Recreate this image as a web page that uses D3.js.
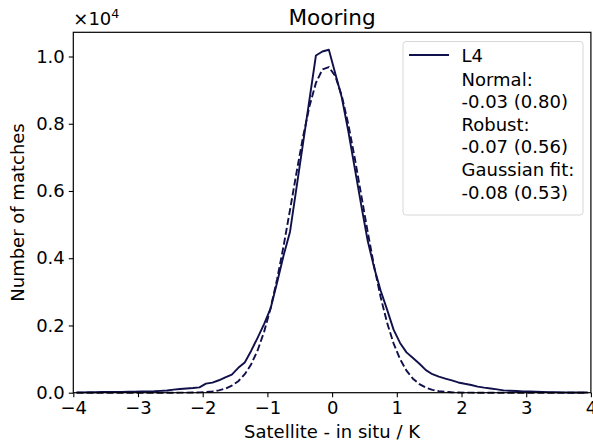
<!DOCTYPE html>
<html><head><meta charset="utf-8">
<script src="https://cdn.jsdelivr.net/npm/d3@7"></script>
<style>
body{margin:0;background:#fff;}
text{font-family:"DejaVu Sans",sans-serif;fill:#000;}
</style></head>
<body><svg id="c" width="593" height="443"></svg>
<script>
// bin centres (K)
const binCentres = d3.range(80).map(i => +(-3.95 + i * 0.1).toFixed(2));
// L4 histogram counts
const countsL4 = [
 10,10,15,15,20,20,25,25,30,30,
 35,40,45,55,65,90,110,125,140,160,
 270,300,370,455,540,740,900,1250,1640,2045,
 2510,3280,4080,4790,6100,7410,8720,10030,10150,10200,
 9490,8780,7780,6680,5580,4520,3720,3040,2470,1875,
 1480,1200,1030,860,670,550,476,420,365,305,
 265,230,180,150,125,100,70,60,50,40,
 35,30,25,15,12,10,8,6,5,5];
// Gaussian fit curve
const fitL4 = [
 0,0,0,0,0,0,0,0,0,0,
 0,0,0,0,0,0,1,2,5,10,
 19,37,68,121,207,343,549,848,1264,1817,
 2520,3377,4363,5442,6548,7602,8519,9214,9616,9684,
 9413,8828,7990,6980,5883,4784,3758,2846,2080,1468,
 999,656,416,255,150,86,47,25,13,6,
 3,1,0,0,0,0,0,0,0,0,
 0,0,0,0,0,0,0,0,0,0];
const xTicks = [-4,-3,-2,-1,0,1,2,3,4];
const yTicks = [0,2000,4000,6000,8000,10000];
const legendLines = ["Normal:","-0.03 (0.80)","Robust:","-0.07 (0.56)","Gaussian fit:","-0.08 (0.53)"];
const title = "Mooring";

const col = "#10104a";
const svg = d3.select("#c");
const L = 73.3, R = 590.9, T = 32.3, B = 392.7;
const x = d3.scaleLinear().domain([-4,4]).range([L,R]);
const y = d3.scaleLinear().domain([0,10720]).range([B,T]);
const fs = 18;

const line = d3.line().x((d,i)=>x(binCentres[i])).y(d=>y(d));
const g = svg.append("g");
g.append("path").datum(countsL4).attr("d",line).attr("fill","none").attr("stroke",col).attr("stroke-width",1.9).attr("stroke-linejoin","round");
g.append("path").datum(fitL4).attr("d",line).attr("fill","none").attr("stroke",col).attr("stroke-width",1.9).attr("stroke-dasharray","7,3");

// axes
const xa = svg.append("g").attr("transform",`translate(0,${B})`)
  .call(d3.axisBottom(x).tickValues(xTicks).tickSize(4.5).tickPadding(4).tickFormat(d=>d<0?"\u2212"+(-d):d));
const ya = svg.append("g").attr("transform",`translate(${L},0)`)
  .call(d3.axisLeft(y).tickValues(yTicks).tickSize(4.5).tickPadding(4).tickFormat(d=>(d/10000).toFixed(1)));
[xa,ya].forEach(a=>{a.select(".domain").remove();a.selectAll("line").attr("stroke","#000").attr("stroke-width",1.1);a.selectAll("text").style("font-size",fs+"px").attr("font-family","DejaVu Sans").attr("fill","#000");});
svg.append("rect").attr("x",L).attr("y",T).attr("width",R-L).attr("height",B-T).attr("fill","none").attr("stroke","#000").attr("stroke-width",1.2);

// multiplier
const m = svg.append("text").attr("x",L).attr("y",25).style("font-size",fs+"px");
m.append("tspan").text("\u00d710");
m.append("tspan").attr("dy",-7).style("font-size",(fs*0.7)+"px").text("4");

svg.append("text").attr("x",(L+R)/2).attr("y",25).attr("text-anchor","middle").style("font-size",(fs*1.2)+"px").text(title);
svg.append("text").attr("x",(L+R)/2).attr("y",438).attr("text-anchor","middle").style("font-size",fs+"px").text("Satellite - in situ / K");
svg.append("text").attr("transform",`translate(24,${(T+B)/2}) rotate(-90)`).attr("text-anchor","middle").style("font-size",fs+"px").text("Number of matches");

// legend
const lg = svg.append("g");
lg.append("rect").attr("x",403).attr("y",41.5).attr("width",180).attr("height",173.5).attr("rx",3).attr("fill","#fff").attr("fill-opacity",0.8).attr("stroke","#d8d8d8").attr("stroke-width",1);
lg.append("line").attr("x1",409).attr("x2",449).attr("y1",55).attr("y2",55).attr("stroke",col).attr("stroke-width",1.9);
lg.append("text").attr("x",461.5).attr("y",61.5).style("font-size",fs+"px").text("L4");
legendLines.forEach((t,i)=>{
  lg.append("text").attr("x",461.5).attr("y",85.5+i*22.6).style("font-size",fs+"px").text(t);
});
</script></body></html>
